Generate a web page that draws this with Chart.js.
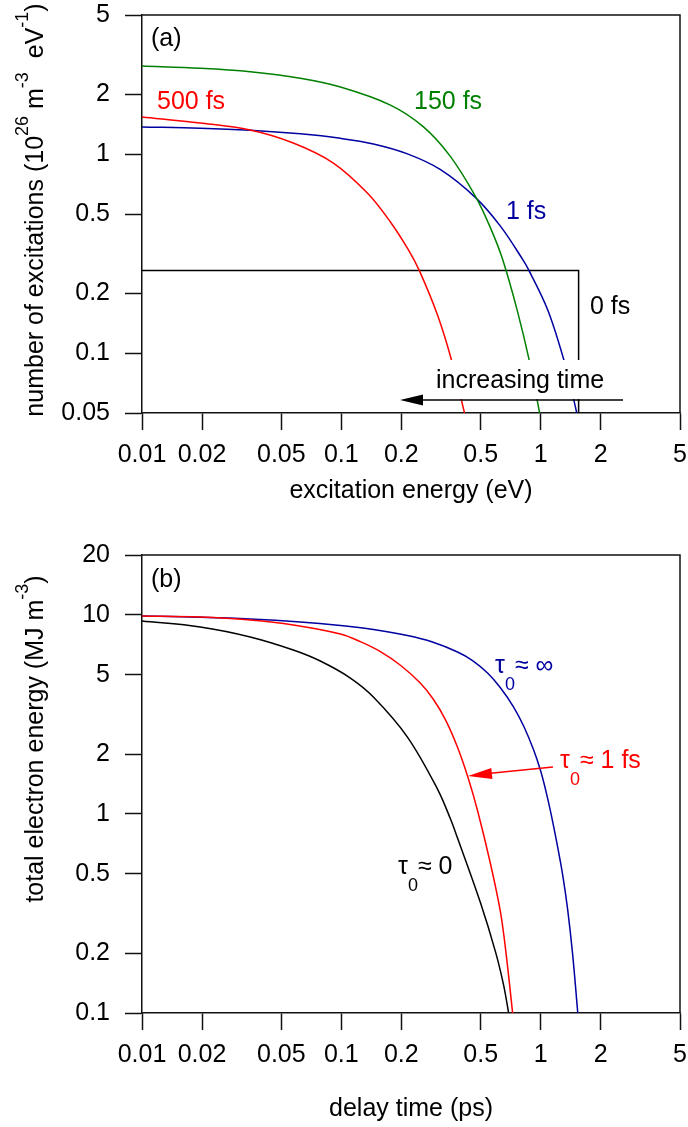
<!DOCTYPE html>
<html><head><meta charset="utf-8">
<script src="https://cdn.jsdelivr.net/npm/chart.js@4.4.0/dist/chart.umd.min.js"></script>
<style>
html,body{margin:0;padding:0;background:#fff;width:688px;height:1127px;overflow:hidden}
#ca{position:absolute;left:0;top:0}
#cb{position:absolute;left:0;top:525px}
</style></head><body>
<canvas id="ca" width="688" height="525"></canvas>
<canvas id="cb" width="688" height="602"></canvas>
<script>
// ---------- data ----------
const energyTicks = [0.01, 0.02, 0.05, 0.1, 0.2, 0.5, 1, 2, 5];
const excitationTicks = [0.05, 0.1, 0.2, 0.5, 1, 2, 5];
const delayTicks = [0.01, 0.02, 0.05, 0.1, 0.2, 0.5, 1, 2, 5];
const totalEnergyTicks = [0.1, 0.2, 0.5, 1, 2, 5, 10, 20];

const energy0fs = [0.01, 1.55, 1.55];
const exc0fs = [0.26, 0.26, 0.05];
const energy1fs = [0.01, 0.0196, 0.0349, 0.0622, 0.099, 0.1448, 0.2146, 0.3145, 0.4715, 0.6295, 0.812, 0.8705, 1.084, 1.305, 1.465, 1.517];
const exc1fs = [1.368, 1.350, 1.318, 1.264, 1.200, 1.125, 1.003, 0.836, 0.6045, 0.4331, 0.2957, 0.2619, 0.1650, 0.0929, 0.0584, 0.05];
const energy150fs = [0.01, 0.0196, 0.0349, 0.0622, 0.099, 0.1763, 0.2583, 0.3529, 0.4715, 0.5607, 0.6442, 0.7662, 0.8805, 0.9886];
const exc150fs = [2.772, 2.699, 2.592, 2.404, 2.172, 1.763, 1.370, 0.9714, 0.6115, 0.4247, 0.2960, 0.1612, 0.0900, 0.05];
const energy500fs = [0.01, 0.0196, 0.0349, 0.0574, 0.0912, 0.1351, 0.1763, 0.2171, 0.2466, 0.3037, 0.357, 0.415];
const exc500fs = [1.536, 1.433, 1.322, 1.137, 0.902, 0.637, 0.456, 0.330, 0.259, 0.1554, 0.0923, 0.05];

const delayInf = [0.01, 0.0196, 0.0349, 0.0622, 0.099, 0.1448, 0.2146, 0.2866, 0.3827, 0.4553, 0.5417, 0.6295, 0.7316, 0.8214, 0.9222, 1.0, 1.0595, 1.1227, 1.217, 1.290, 1.367, 1.448, 1.535];
const totalInf = [9.874, 9.737, 9.548, 9.222, 8.846, 8.446, 7.879, 7.308, 6.512, 5.900, 5.105, 4.292, 3.445, 2.765, 2.095, 1.643, 1.318, 1.022, 0.682, 0.493, 0.329, 0.1954, 0.1];
const delay1fs = [0.01, 0.0196, 0.0349, 0.0574, 0.099, 0.1246, 0.157, 0.1979, 0.2495, 0.29, 0.3332, 0.3827, 0.4347, 0.4825, 0.5544, 0.6295, 0.6747, 0.7233];
const total1fs = [9.874, 9.759, 9.428, 8.897, 8.017, 7.341, 6.542, 5.588, 4.537, 3.757, 2.968, 2.161, 1.494, 1.038, 0.5871, 0.3188, 0.1888, 0.1];
const delay0 = [0.01, 0.0196, 0.0349, 0.0574, 0.0784, 0.111, 0.1448, 0.2146, 0.3037, 0.3529, 0.3827, 0.4994, 0.594, 0.6517, 0.6907];
const total0 = [9.318, 8.694, 7.745, 6.661, 5.866, 4.818, 3.868, 2.434, 1.334, 0.9428, 0.7566, 0.3567, 0.2023, 0.1381, 0.1];

// ---------- helpers ----------
const FF = '"Liberation Sans", Arial, Helvetica, sans-serif';
const FS = 25;
const pts = (xs, ys) => xs.map((x, i) => ({x: x, y: ys[i]}));

function line(data, color, smooth) {
  return {
    data: data, borderColor: color, backgroundColor: color, borderWidth: 1.5,
    pointRadius: 0, fill: false,
    cubicInterpolationMode: 'default', tension: smooth ? 0.35 : 0
  };
}

function rich(ctx, parts, x, y, angle, align, color) {
  ctx.save();
  ctx.translate(x, y);
  ctx.rotate(angle);
  ctx.fillStyle = color || '#000';
  ctx.textBaseline = 'alphabetic';
  ctx.textAlign = 'left';
  let total = 0;
  const ws = parts.map(p => {
    ctx.font = (p[1] === 'n' ? FS : 18) + 'px ' + FF;
    const w = ctx.measureText(p[0]).width;
    total += w;
    return w;
  });
  let cx = align === 'center' ? -total / 2 : 0;
  parts.forEach((p, i) => {
    ctx.font = (p[1] === 'n' ? FS : 18) + 'px ' + FF;
    const dy = p[1] === 'sup' ? -15 : (p[1] === 'sub' ? 17 : 0);
    ctx.fillText(p[0], cx, dy);
    cx += ws[i];
  });
  ctx.restore();
}

function txt(ctx, s, x, y, color, align) {
  ctx.save();
  ctx.font = FS + 'px ' + FF;
  ctx.fillStyle = color;
  ctx.textAlign = align || 'left';
  ctx.textBaseline = 'alphabetic';
  ctx.fillText(s, x, y);
  ctx.restore();
}

function arrowHead(ctx, tipX, tipY, fromX, fromY, len, half, color) {
  const a = Math.atan2(tipY - fromY, tipX - fromX);
  ctx.save();
  ctx.fillStyle = color;
  ctx.beginPath();
  ctx.moveTo(tipX, tipY);
  ctx.lineTo(tipX - len * Math.cos(a) - half * Math.sin(a), tipY - len * Math.sin(a) + half * Math.cos(a));
  ctx.lineTo(tipX - len * Math.cos(a) + half * Math.sin(a), tipY - len * Math.sin(a) - half * Math.cos(a));
  ctx.closePath();
  ctx.fill();
  ctx.restore();
}

function frame(chart) {
  const ctx = chart.ctx, a = chart.chartArea;
  ctx.save();
  ctx.strokeStyle = '#111';
  ctx.lineWidth = 1.5;
  ctx.beginPath();
  ctx.moveTo(a.left, a.top); ctx.lineTo(a.right, a.top); ctx.lineTo(a.right, a.bottom);
  ctx.stroke();
  ctx.restore();
}

function scales(xTicks, yTicks, xmin, xmax, ymin, ymax, xh) {
  const common = (ticks) => ({
    type: 'logarithmic',
    afterBuildTicks: s => { s.ticks = ticks.map(v => ({value: v})); },
    grid: {display: true, drawOnChartArea: false, drawTicks: true, tickLength: 17, tickColor: '#111', tickWidth: 1.5},
    border: {display: true, color: '#111', width: 1.5},
    ticks: {font: {family: FF, size: FS}, color: '#000', autoSkip: false, maxRotation: 0, minRotation: 0,
            callback: v => String(v)}
  });
  const x = common(xTicks);
  x.min = xmin; x.max = xmax; x.position = 'bottom';
  x.ticks.padding = 10;
  x.afterFit = s => { s.height = xh; s.paddingLeft = 0; s.paddingRight = 0; s.paddingTop = 0; s.paddingBottom = 0; };
  const y = common(yTicks);
  y.min = ymin; y.max = ymax; y.position = 'left';
  y.ticks.padding = 15;
  y.afterFit = s => { s.width = 142; s.paddingLeft = 0; s.paddingRight = 0; s.paddingTop = 0; s.paddingBottom = 0; };
  return {x: x, y: y};
}

// ---------- chart (a) ----------
new Chart(document.getElementById('ca'), {
  type: 'line',
  data: {datasets: [
    line(pts(energy500fs, exc500fs), '#ff0000', true),
    line(pts(energy150fs, exc150fs), '#008000', true),
    line(pts(energy1fs, exc1fs), '#0000a0', true),
    line(pts(energy0fs, exc0fs), '#000000', false)
  ]},
  options: {
    responsive: false, animation: false, devicePixelRatio: 1,
    layout: {padding: {top: 15, right: 8, left: 0, bottom: 0}},
    plugins: {legend: {display: false}, tooltip: {enabled: false}},
    scales: scales(energyTicks, excitationTicks, 0.01, 5, 0.05, 5, 112)
  },
  plugins: [{
    id: 'decorA',
    afterDatasetsDraw(chart) {
      const ctx = chart.ctx, a = chart.chartArea;
      frame(chart);
      ctx.save(); ctx.fillStyle = '#fff'; ctx.fillRect(432, 360, 180, 39); ctx.restore();
      txt(ctx, 'increasing time', 436, 388, '#000');
      ctx.save(); ctx.strokeStyle = '#000'; ctx.lineWidth = 1.5;
      ctx.beginPath(); ctx.moveTo(623, 400); ctx.lineTo(418, 400); ctx.stroke(); ctx.restore();
      arrowHead(ctx, 400, 400, 623, 400, 23, 5.5, '#000');
      txt(ctx, '(a)', 151, 46, '#000');
      txt(ctx, '500 fs', 157, 109, '#ff0000');
      txt(ctx, '150 fs', 414, 109, '#008000');
      txt(ctx, '1 fs', 506, 219, '#0000a0');
      txt(ctx, '0 fs', 590, 314, '#000');
      rich(ctx, [['excitation energy (eV)', 'n']], (a.left + a.right) / 2, 498, 0, 'center');
      rich(ctx, [['number of excitations (10', 'n'], ['26', 'sup'], [' m', 'n'], ['-3', 'sup'], ['  eV', 'n'], ['-1', 'sup'], [')', 'n']],
           43, 210, -Math.PI / 2, 'center');
    }
  }]
});

// ---------- chart (b) ----------
const OFF = 525;
new Chart(document.getElementById('cb'), {
  type: 'line',
  data: {datasets: [
    line(pts(delay0, total0), '#000000', true),
    line(pts(delay1fs, total1fs), '#ff0000', true),
    line(pts(delayInf, totalInf), '#0000a0', true)
  ]},
  options: {
    responsive: false, animation: false, devicePixelRatio: 1,
    layout: {padding: {top: 30, right: 8, left: 0, bottom: 0}},
    plugins: {legend: {display: false}, tooltip: {enabled: false}},
    scales: scales(delayTicks, totalEnergyTicks, 0.01, 5, 0.1, 20, 114)
  },
  plugins: [{
    id: 'decorB',
    afterDatasetsDraw(chart) {
      const ctx = chart.ctx, a = chart.chartArea;
      frame(chart);
      txt(ctx, '(b)', 151, 587 - OFF, '#000');
      rich(ctx, [['\u03c4', 'n'], ['0', 'sub'], ['\u2248 \u221e', 'n']], 495, 673 - OFF, 0, 'left', '#0000a0');
      rich(ctx, [['\u03c4', 'n'], ['0', 'sub'], ['\u2248 1 fs', 'n']], 560, 768 - OFF, 0, 'left', '#ff0000');
      rich(ctx, [['\u03c4', 'n'], ['0', 'sub'], ['\u2248 0', 'n']], 398, 874 - OFF, 0, 'left', '#000');
      ctx.save(); ctx.strokeStyle = '#ff0000'; ctx.lineWidth = 1.5;
      ctx.beginPath(); ctx.moveTo(553, 767 - OFF); ctx.lineTo(488, 773.5 - OFF); ctx.stroke(); ctx.restore();
      arrowHead(ctx, 468, 776 - OFF, 553, 767 - OFF, 24, 5.5, '#ff0000');
      rich(ctx, [['delay time (ps)', 'n']], (a.left + a.right) / 2, 1116 - OFF, 0, 'center');
      rich(ctx, [['total electron energy (MJ m', 'n'], ['-3', 'sup'], [')', 'n']], 43, 739 - OFF, -Math.PI / 2, 'center');
    }
  }]
});
</script>
</body></html>
